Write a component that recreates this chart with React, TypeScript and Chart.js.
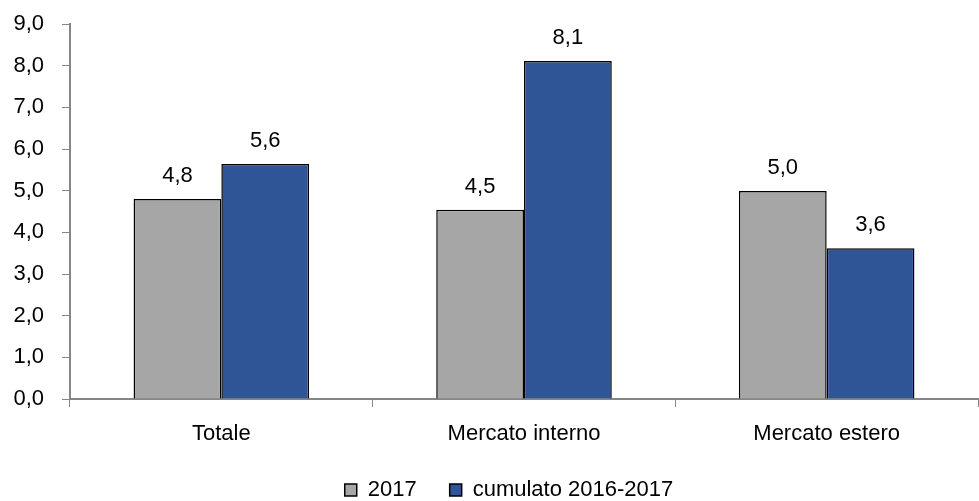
import React, { useEffect, useRef } from "react";
import { Chart, registerables } from "chart.js";

Chart.register(...registerables);

const categories = ["Totale", "Mercato interno", "Mercato estero"];
const series2017 = [4.8, 4.54, 4.99];
const seriesCumulato = [5.64, 8.11, 3.62];
const seriesNames = ["2017", "cumulato 2016-2017"];
const yTicks = [0, 1, 2, 3, 4, 5, 6, 7, 8, 9];

const FONT = "'Liberation Sans Narrow', 'Arial Narrow', 'Liberation Sans', Arial, sans-serif";
const FS = 22;
const fmt = (v: number) => v.toFixed(1).replace(".", ",");

const valueLabels = {
  id: "valueLabels",
  afterDatasetsDraw(chart: any) {
    const ctx = chart.ctx;
    ctx.save();
    ctx.font = `${FS}px ${FONT}`;
    ctx.fillStyle = "#000";
    ctx.textAlign = "center";
    ctx.textBaseline = "alphabetic";
    chart.data.datasets.forEach((ds: any, i: number) => {
      const meta = chart.getDatasetMeta(i);
      meta.data.forEach((bar: any, j: number) => {
        ctx.fillText(fmt(ds.data[j]), bar.x, bar.y - 17);
      });
    });
    ctx.restore();
  },
};

const legendShift = {
  id: "legendShift",
  afterLayout(chart: any) {
    if (chart.legend) chart.legend.left += 40;
  },
};

export default function App() {
  const ref = useRef<HTMLCanvasElement>(null);
  useEffect(() => {
    document.body.style.margin = "0";
    const chart = new Chart(ref.current!, {
      type: "bar",
      data: {
        labels: categories,
        datasets: [
          {
            label: seriesNames[0],
            data: series2017,
            backgroundColor: "#a6a6a6",
            borderColor: "#000",
            borderWidth: 1.5,
            categoryPercentage: 0.58,
            barPercentage: 1,
          },
          {
            label: seriesNames[1],
            data: seriesCumulato,
            backgroundColor: "#2f5597",
            borderColor: "#000",
            borderWidth: 1.5,
            categoryPercentage: 0.58,
            barPercentage: 1,
          },
        ],
      },
      options: {
        animation: false,
        responsive: false,
        layout: { padding: { top: 24, right: 1, left: 0, bottom: -10 } },
        plugins: {
          legend: {
            position: "bottom",
            labels: {
              font: { family: FONT, size: FS },
              color: "#000",
              boxWidth: 12,
              boxHeight: 12,
              padding: 33,
            },
          },
          tooltip: { enabled: false },
        },
        scales: {
          x: {
            grid: {
              display: true,
              drawOnChartArea: false,
              drawTicks: true,
              tickLength: 8,
              color: "#868686",
              offset: true,
            },
            border: { color: "#868686", width: 2 },
            ticks: { font: { family: FONT, size: FS }, color: "#000", padding: 14 },
            afterFit(scale: any) {
              scale.height = 47;
            },
          },
          y: {
            min: 0,
            max: 9,
            afterBuildTicks(scale: any) {
              scale.ticks = yTicks.map((v) => ({ value: v }));
            },
            grid: {
              display: true,
              drawOnChartArea: false,
              drawTicks: true,
              tickLength: 8,
              color: "#868686",
            },
            border: { color: "#868686", width: 2 },
            ticks: {
              font: { family: FONT, size: FS },
              color: "#000",
              padding: 18,
              callback: (v: any) => fmt(Number(v)),
            },
            afterFit(scale: any) {
              scale.width = 70;
              scale.paddingTop = 0;
              scale.paddingBottom = 0;
            },
          },
        },
      },
      plugins: [valueLabels, legendShift],
    });
    return () => chart.destroy();
  }, []);
  return <canvas ref={ref} width={979} height={501} style={{ display: "block" }} />;
}
